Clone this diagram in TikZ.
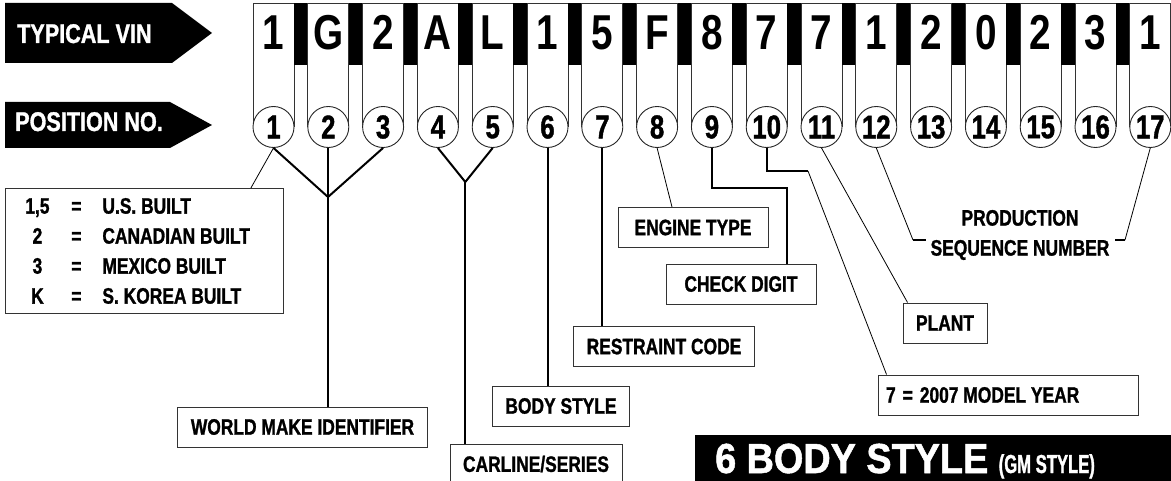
\documentclass[tikz,border=0pt]{standalone}
\usepackage{fontspec}
\setmainfont{Liberation Sans}[FakeStretch=0.78, BoldFeatures={FakeBold=1.2}]
\newfontfamily\vinfont{Liberation Sans}[FakeStretch=0.79]
\newfontfamily\flagfont{Liberation Sans}[FakeStretch=0.8, BoldFeatures={FakeBold=1.2}]
\newfontfamily\titlefont{Liberation Sans}[FakeStretch=0.9, BoldFeatures={FakeBold=1.2}]
\newfontfamily\narrowfont{Liberation Sans}[FakeStretch=0.64, BoldFeatures={FakeBold=1.2}]

\begin{document}
\begin{tikzpicture}[
  x=1pt, y=-1pt,
  every node/.style={align=center, inner sep=0pt},
  flag/.style={fill=black},
  flagtext/.style={anchor=base west, text=white, font=\flagfont\fontsize{27}{27}\selectfont\bfseries},
  vinbox/.style={draw=black!80, line width=0.9pt},
  vinbar/.style={fill=black},
  vinchar/.style={anchor=base, font=\vinfont\fontsize{49}{49}\selectfont\bfseries},
  posno/.style={circle, draw=black!85, line width=0.9pt, fill=white, minimum size=41pt, font=\fontsize{33}{33}\selectfont\bfseries},
  tagbox/.style={draw=black!80, line width=0.9pt, fill=white, inner xsep=13pt, minimum height=40pt, font=\fontsize{22.3}{22}\selectfont\bfseries},
  lead/.style={draw, line width=0.8pt},
  trunk/.style={draw, line width=2pt}]

  \useasboundingbox (0,0) rectangle (1171,481);

  % The two black arrows at the left
  \fill[flag] (5,3) -- (172,3) -- (212,33) -- (172,63) -- (5,63) -- cycle;
  \node[flagtext] (vinlabel) at (17,43) {TYPICAL VIN};
  \fill[flag] (5,102) -- (170,102) -- (212,125) -- (170,148) -- (5,148) -- cycle;
  \node[flagtext] (poslabel) at (15,131) {POSITION NO.};

  % One column for each character of the VIN
  \foreach \ch [count=\i] in {1,G,2,A,L,1,5,F,8,7,7,1,2,0,2,3,1} {
    \pgfmathsetmacro\xl{253+(\i-1)*54.8}
    \draw[vinbox] (\xl,127) -- (\xl,3) -- (\xl+41,3) -- (\xl+41,127);
    \ifnum\i<17 \fill[vinbar] (\xl+41,3) rectangle (\xl+54.8,65); \fi
    \node[vinchar] (ch\i) at (\xl+20.5,50) {\ch};
    \node[posno] (pos\i) at (\xl+20.5,127) {\i};
  }

  % The boxes that tell what the positions mean
  \node[tagbox, anchor=north west, text width=254pt, inner xsep=12pt, minimum height=125pt,
        align=flush left, font=\fontsize{22.3}{30}\selectfont\bfseries] (legend) at (5,188) {%
    \makebox[40pt]{1,5}\makebox[38pt]{=}\hspace{7pt}U.S. BUILT\\
    \makebox[40pt]{2}\makebox[38pt]{=}\hspace{7pt}CANADIAN BUILT\\
    \makebox[40pt]{3}\makebox[38pt]{=}\hspace{7pt}MEXICO BUILT\\
    \makebox[40pt]{K}\makebox[38pt]{=}\hspace{7pt}S. KOREA BUILT};
  \node[tagbox] (wmi) at (302.5,427) {WORLD MAKE IDENTIFIER};
  \node[tagbox] (carline) at (536,464) {CARLINE/SERIES};
  \node[tagbox] (body) at (561,406) {BODY STYLE};
  \node[tagbox] (restraint) at (664,346.5) {RESTRAINT CODE};
  \node[tagbox, minimum width=150pt] (engine) at (693,227.5) {ENGINE TYPE};
  \node[tagbox, minimum width=150pt] (check) at (741,284) {CHECK DIGIT};
  \node[tagbox] (plant) at (945,323) {PLANT};
  \node[tagbox, text width=244pt, inner xsep=8pt, align=flush left] (year) at (1008,395)
    {7\hspace{7pt}=\hspace{7pt}2007 MODEL YEAR};
  \node[font=\fontsize{22.3}{30}\selectfont\bfseries] (psn) at (1020,235) {PRODUCTION\\SEQUENCE NUMBER};

  % Bends and forks of the leader lines
  \coordinate (wmifork) at (328,197);
  \coordinate (carfork) at (465.3,182);
  \coordinate (chkbend) at (787,188);
  \coordinate (yrbend) at (808,171);
  \coordinate (psnleft) at (913,240);
  \coordinate (psnl) at (926,240);
  \coordinate (psnright) at (1125,240);
  \coordinate (psnr) at (1115,240);

  % Draw the leader lines
  \draw[lead] (pos1.south) -- ([xshift=-33pt]legend.north east);
  \draw[trunk] (pos1.south) -- (wmifork) -- (pos3.south);
  \draw[trunk] (pos2.south) -- (pos2.south |- wmi.north);
  \draw[trunk] (pos4.south) -- (carfork) -- (pos5.south);
  \draw[trunk] (carfork) -- (carfork |- carline.north);
  \draw[trunk] (pos6.south) -- (pos6.south |- body.north);
  \draw[trunk] (pos7.south) -- (pos7.south |- restraint.north);
  \draw[lead] (pos8.south) -- ([xshift=-21pt]engine.north);
  \draw[trunk] (pos9.south) |- (chkbend) -- (chkbend |- check.north);
  \draw[trunk] (pos10.south) |- (yrbend);
  \draw[lead] (yrbend) -- ([xshift=9pt]year.north west);
  \draw[lead] (pos11.south) -- ([xshift=5pt]plant.north west);
  \draw[lead] (pos12.south) -- (psnleft);
  \draw[trunk] (psnleft) -- (psnl);
  \draw[lead] (pos17.south) -- (psnright);
  \draw[trunk] (psnright) -- (psnr);

  % Title bar at the bottom
  \fill (695,435) rectangle (1180,490);
  \node[anchor=base west, text=white, font=\titlefont\fontsize{42}{42}\selectfont\bfseries] (title) at (715,473)
    {6 BODY STYLE {\narrowfont\fontsize{26}{26}\selectfont(GM STYLE)}};
\end{tikzpicture}
\end{document}
